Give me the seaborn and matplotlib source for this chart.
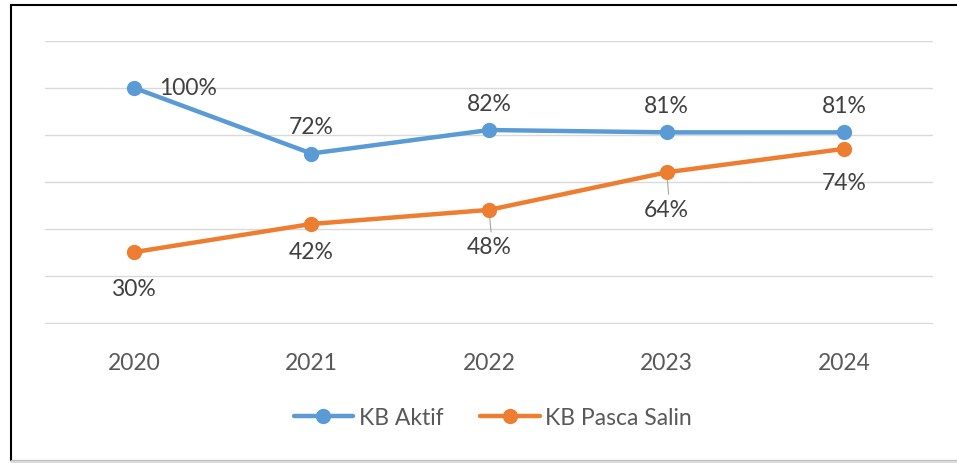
import pandas as pd
import matplotlib.pyplot as plt
import seaborn as sns
from matplotlib.patches import Rectangle
from matplotlib.lines import Line2D

years = ['2020', '2021', '2022', '2023', '2024']
kb_aktif = [100, 72, 82, 81, 81]
kb_pasca_salin = [30, 42, 48, 64, 74]
series_names = ['KB Aktif', 'KB Pasca Salin']
colors = ['#5B9BD5', '#ED7D31']

df = pd.DataFrame({
    'year': years * 2,
    'value': kb_aktif + kb_pasca_salin,
    'series': [series_names[0]] * len(years) + [series_names[1]] * len(years),
})

sns.set_theme(style='white')
plt.rcParams['font.family'] = ['Lato', 'DejaVu Sans']

fig = plt.figure(figsize=(9.57, 4.64), dpi=100)
ax = fig.add_axes([0.047, 0.300, 0.928, 0.610])

sns.lineplot(data=df, x='year', y='value', hue='series', palette=colors,
             marker='o', markersize=11, markeredgewidth=0, linewidth=3.2,
             sort=False, ax=ax, legend=False)

ax.set_xlim(-0.5, 4.5)
ax.set_ylim(-0.5, 120)
ax.set_yticks(range(0, 121, 20))
ax.set_yticklabels([])
ax.yaxis.grid(True, color='#D9D9D9', linewidth=1)
for s in ax.spines.values():
    s.set_visible(False)
ax.tick_params(axis='x', length=0, pad=20, labelsize=16.5, labelcolor='#595959')
ax.tick_params(axis='y', length=0)
ax.set_xlabel('')
ax.set_ylabel('')

# data labels
label_kw = dict(textcoords='offset pixels', fontsize=16.5, color='#404040')
for i, v in enumerate(kb_aktif):
    if i == 0:
        ax.annotate(f'{v}%', (i, v), xytext=(25, 0), ha='left', va='center', **label_kw)
    else:
        ax.annotate(f'{v}%', (i, v), xytext=(0, 27), ha='center', va='center', **label_kw)
below = [36, 28, 37, 37, 34]
for i, v in enumerate(kb_pasca_salin):
    ax.annotate(f'{v}%', (i, v), xytext=(0, -below[i]), ha='center', va='center', **label_kw)
    if i in (2, 3):
        ax.annotate('', (i, v), xytext=(2, -below[i] + 15), textcoords='offset pixels',
                    arrowprops=dict(arrowstyle='-', color='#A6A6A6', lw=0.8,
                                    shrinkA=0, shrinkB=6))

# legend
handles = [Line2D([0], [0], color=c, lw=3.2, marker='o', markersize=11, markeredgewidth=0)
           for c in colors]
fig.legend(handles, series_names, loc='center', bbox_to_anchor=(0.515, 0.099),
           ncol=2, frameon=False, fontsize=16.5, labelcolor='#595959',
           handlelength=2.6, handletextpad=0.25, columnspacing=1.6)

# chart border
fig.add_artist(Rectangle((11 / 957, 2 / 464), 1.2, 456 / 464, transform=fig.transFigure,
                         fill=False, edgecolor='#000000', linewidth=1.5))
fig.add_artist(Line2D([11 / 957, 1], [2 / 464, 2 / 464], transform=fig.transFigure,
                      color='#D9D9D9', linewidth=2))

fig.savefig('out.png', dpi=100)
